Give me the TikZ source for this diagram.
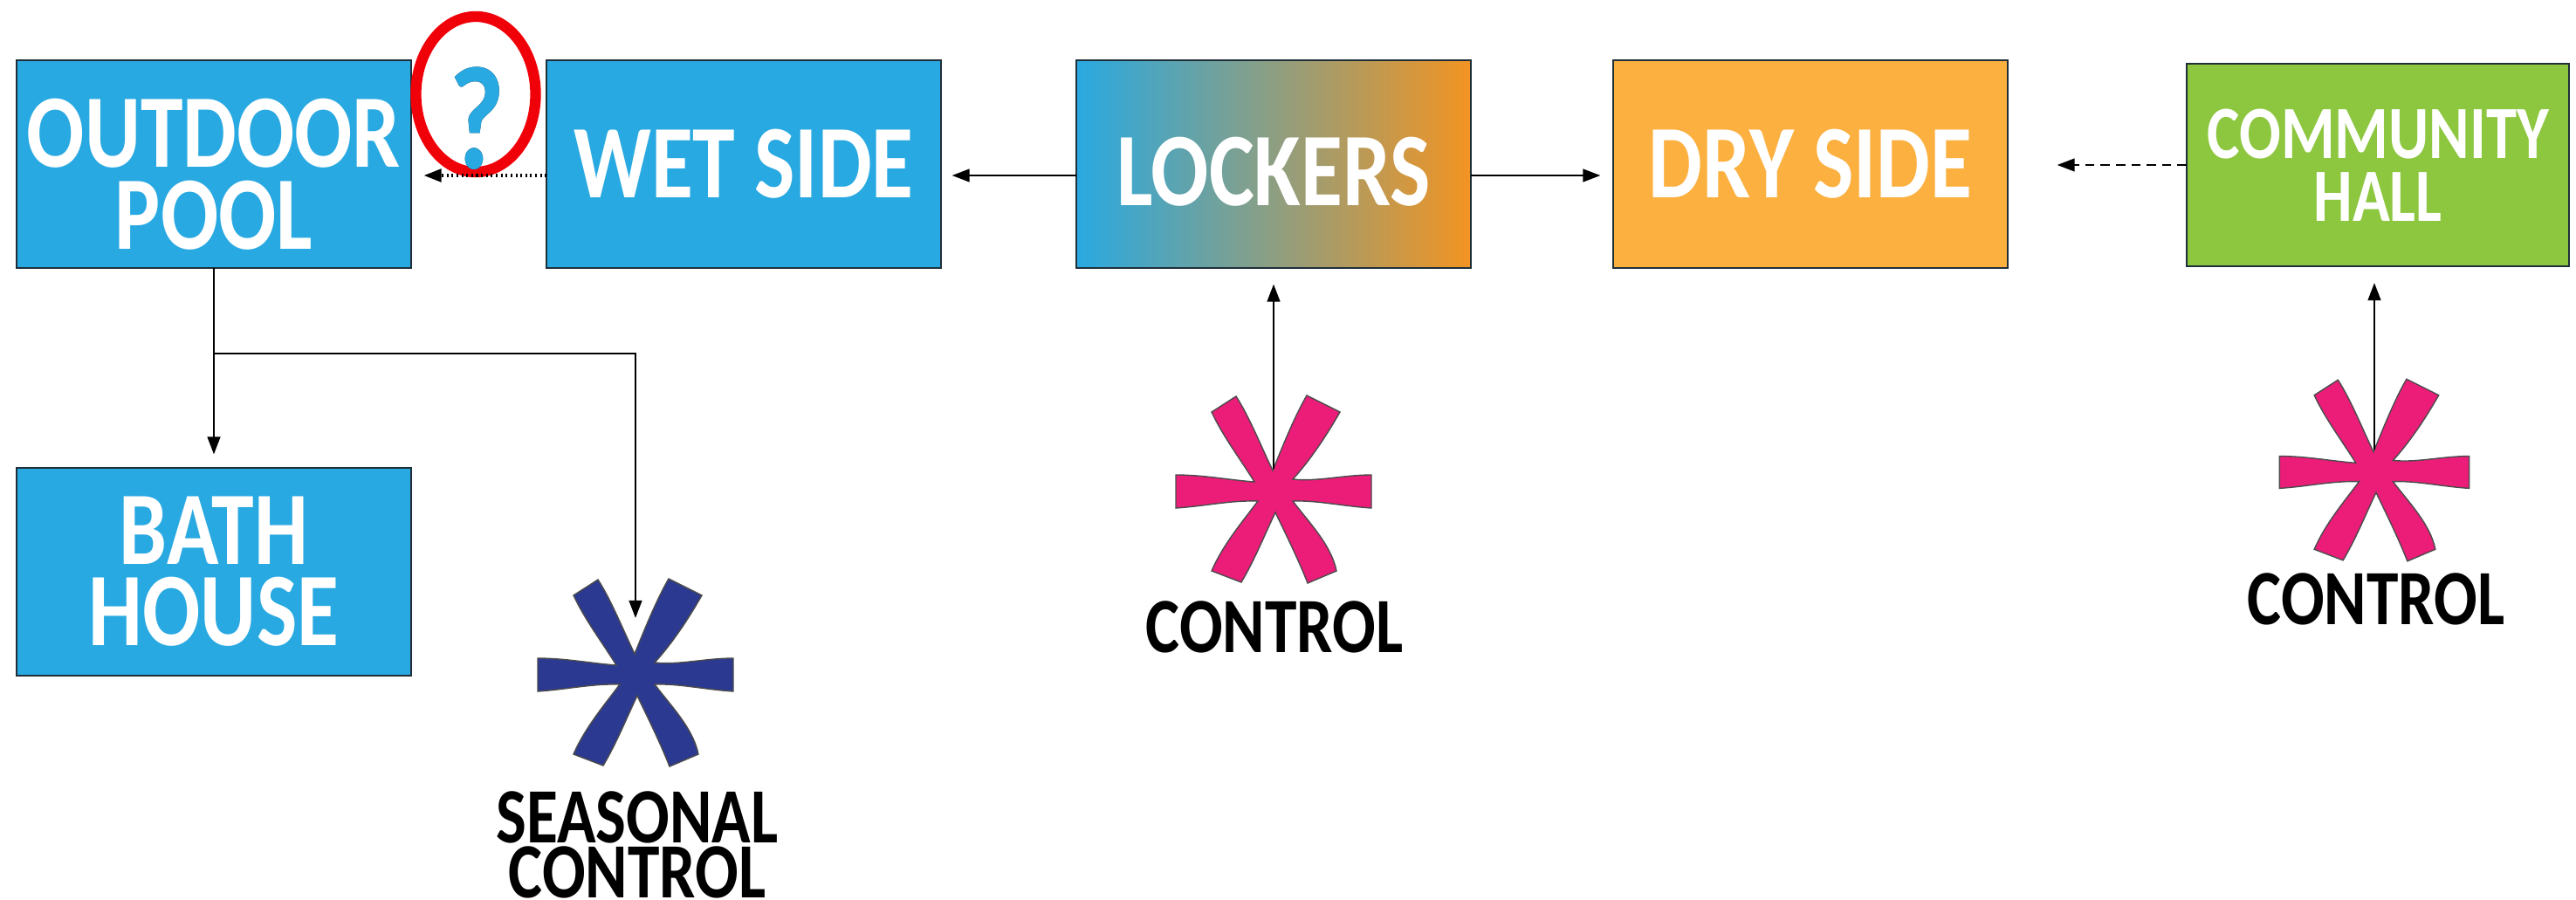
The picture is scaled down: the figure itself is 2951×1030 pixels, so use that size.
\documentclass[tikz,border=0pt]{standalone}
\usepackage{fontspec}
\usepackage[outline]{contour}
\setmainfont{Carlito}[FakeStretch=0.82]
\usetikzlibrary{arrows.meta,shapes.geometric}

\definecolor{boxblue}{HTML}{29A9E1}
\definecolor{boxorange}{HTML}{FBB040}
\definecolor{lockorange}{HTML}{F29422}
\definecolor{boxgreen}{HTML}{8DC63F}
\definecolor{starpink}{HTML}{EC1C79}
\definecolor{starnavy}{HTML}{2B3990}
\definecolor{ringred}{HTML}{F00008}
\definecolor{edgedark}{HTML}{1F2F3A}
\contourlength{0.5pt}

\tikzset{
  room/.style={draw=edgedark, line width=0.6pt, minimum width=4.51cm, minimum height=2.37cm,
    inner sep=0pt, outer sep=0pt, text=white, align=center, font=\fontsize{34}{26.5}\selectfont\bfseries},
  tag/.style={text=black, align=center, inner sep=0pt, font=\fontsize{25.5}{17.8}\selectfont\bfseries},
  flow/.style={line width=0.6pt, -{Triangle[length=5.7pt,width=4.2pt]}},
  maybe/.style={flow, densely dashed},
  maybedots/.style={flow, densely dotted, line width=0.9pt},
  asterisk/.pic={
    \path[draw=black!70, line width=0.4pt, pic actions]
      (-1,-23) .. controls (10,-50) and (24,-85) .. (38,-109) -- (76,-90)
      .. controls (60,-62) and (42,-35) .. (22,-13)
      .. controls (50,-10) and (80,-18) .. (112,-18) -- (112,20)
      .. controls (80,18) and (50,11) .. (22,12)
      .. controls (40,36) and (66,62) .. (72,92) -- (39,106)
      .. controls (28,78) and (14,50) .. (2,25)
      .. controls (-10,50) and (-22,80) .. (-37,105) -- (-71,92)
      .. controls (-58,62) and (-36,36) .. (-18,12)
      .. controls (-50,11) and (-80,18) .. (-112,20) -- (-112,-18)
      .. controls (-80,-18) and (-50,-12) .. (-22,-10)
      .. controls (-38,-36) and (-58,-62) .. (-71,-90) -- (-43,-108)
      .. controls (-28,-85) and (-14,-50) .. (-1,-23) -- cycle;
  }
}

\begin{document}
\begin{tikzpicture}[x=0.01cm, y=-0.01cm]
\useasboundingbox (0,0) rectangle (2951,1030);

% Rooms
\node[room, fill=boxblue] (outdoor) at (245,188) {\rule{0pt}{29pt}OUTDOOR\\POOL};
\node[room, fill=boxblue] (wetside) at (852,188) {WET SIDE};
\node[room, left color=boxblue, right color=lockorange] (lockers) at (1459,188) {\rule{0pt}{27pt}LOCKERS};
\node[room, fill=boxorange] (dryside) at (2074,188) {DRY SIDE};
\node[room, fill=boxgreen, minimum width=4.38cm, minimum height=2.32cm, font=\fontsize{24.5}{20.5}\selectfont\bfseries] (hall) at (2724,189) {COMMUNITY\\HALL};
\node[room, fill=boxblue] (bath) at (245,655) {BATH\\HOUSE};

% Asterisks and their labels
\coordinate (seasonal) at (728,772);
\coordinate (controlone) at (1459,562);
\coordinate (controltwo) at (2720,540);
\coordinate (branch) at (245,405);
\pic[fill=starnavy] at (seasonal) {asterisk};
\pic[fill=starpink] at (controlone) {asterisk};
\pic[fill=starpink, scale=0.97] at (controltwo) {asterisk};
\node[tag] (seasonallabel) at (730,968) {SEASONAL\\CONTROL};
\node[tag] (controlonelabel) at (1460,718) {CONTROL};
\node[tag] (controltwolabel) at (2722,686) {CONTROL};

% Question mark in its ring
\node[ellipse, draw=ringred, line width=3.5pt, minimum width=1.37cm, minimum height=1.78cm, inner sep=0pt, outer sep=0pt] (ring) at (545,108) {};
\node[inner sep=0pt, font=\fontsize{48}{48}\selectfont\bfseries] (question) at (547,136) {\textcolor{boxblue}{\contour{edgedark}{?}}};

% Connectors
\draw[flow] ([yshift=-0.13cm]lockers.west) -- ([yshift=-0.13cm,xshift=0.13cm]wetside.east);
\draw[flow] ([yshift=-0.13cm]lockers.east) -- ([yshift=-0.13cm,xshift=-0.15cm]dryside.west);
\draw[maybedots] ([yshift=-0.13cm]wetside.west) -- ([yshift=-0.13cm,xshift=0.15cm]outdoor.east);
\draw[maybe] (hall.west) -- ([xshift=0.57cm]dryside.east |- hall.west);
\draw[flow, shorten >=0.16cm] (outdoor.south) -- (bath.north);
\draw[line width=0.6pt] (outdoor.south) -- (branch);
\draw[flow, shorten >=0.64cm] (branch) -| (seasonal);
\draw[flow, shorten <=0.25cm, shorten >=0.19cm] (controlone) -- (controlone |- lockers.south);
\draw[flow, shorten <=0.25cm, shorten >=0.19cm] (controltwo) -- (controltwo |- hall.south);
\end{tikzpicture}
\end{document}
